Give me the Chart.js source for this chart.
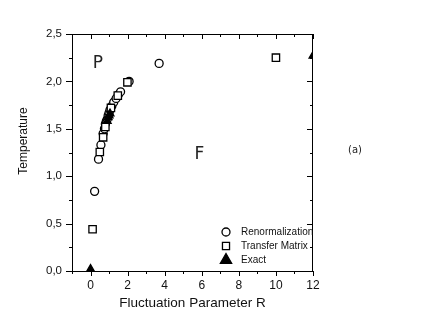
<!DOCTYPE html>
<html>
<head>
<meta charset="utf-8">
<script src="https://cdn.jsdelivr.net/npm/chart.js@4"></script>
<style>
  html, body { margin: 0; padding: 0; background: #fff; }
  #wrap { width: 436px; height: 327px; }
</style>
</head>
<body>
<div id="wrap"><canvas id="phase" width="436" height="327"></canvas></div>
<script>
// values
const renormR = [0.22, 0.43, 0.56, 0.68, 0.75, 0.8, 0.85, 0.9, 0.95, 1.0, 1.05, 1.15, 1.25, 1.38, 1.5, 1.62, 2.08, 3.7];
const renormT = [0.84, 1.18, 1.33, 1.45, 1.5, 1.55, 1.58, 1.6, 1.64, 1.67, 1.7, 1.74, 1.78, 1.82, 1.86, 1.89, 2.0, 2.19];
const transferR = [0.11, 0.5, 0.68, 0.8, 1.1, 1.47, 1.99, 10.0];
const transferT = [0.44, 1.255, 1.41, 1.52, 1.72, 1.85, 1.99, 2.25];
const exactR = [0.0, 0.9, 0.95, 1.0, 1.05, 12.0];
const exactT = [0.02, 1.58, 1.62, 1.64, 1.66, 2.27];
const xTicks = [0, 2, 4, 6, 8, 10, 12];
const yTicks = [0, 0.5, 1.0, 1.5, 2.0, 2.5];
const seriesNames = ["Renormalization", "Transfer Matrix", "Exact"];
const regionLabels = [{ text: "P", r: 0.39, t: 2.19 }, { text: "F", r: 5.87, t: 1.23 }];

const FONT = "'Liberation Sans', Arial, sans-serif";

function pts(xs, ys) { return xs.map((x, i) => ({ x: x, y: ys[i] })); }

// axis frame, tick marks, titles, region letters, legend
const decor = {
  id: "decor",
  afterDraw(chart) {
    const c = chart.ctx, a = chart.chartArea;
    const xs = chart.scales.x, ys = chart.scales.y;
    c.save();
    c.strokeStyle = "#000";
    c.lineWidth = 1;
    c.strokeRect(a.left + 0.5, a.top + 0.5, a.right - a.left - 1, a.bottom - a.top);
    c.beginPath();
    for (let v = -1; v <= 12; v++) {
      const px = Math.round(xs.getPixelForValue(v)) + 0.5;
      const len = v % 2 === 0 ? 5 : 3;
      c.moveTo(px, a.bottom); c.lineTo(px, a.bottom + len);
      c.moveTo(px, a.top); c.lineTo(px, a.top + len);
    }
    for (let v = 0; v <= 2.5001; v += 0.25) {
      const py = Math.round(ys.getPixelForValue(v)) + 0.5;
      const major = Math.abs(v / 0.5 - Math.round(v / 0.5)) < 1e-6;
      const len = major ? 6 : 3;
      c.moveTo(a.left, py); c.lineTo(a.left - len, py);
      c.moveTo(a.right, py); c.lineTo(a.right - len, py);
    }
    c.stroke();

    c.fillStyle = "#111";
    c.textAlign = "center";
    c.textBaseline = "middle";
    c.font = "13.5px " + FONT;
    c.fillText("Fluctuation Parameter R", (a.left + a.right) / 2, 303);
    c.save();
    c.translate(24, 141);
    c.rotate(-Math.PI / 2);
    c.font = "12px " + FONT;
    c.fillText("Temperature", 0, 0);
    c.restore();

    c.font = "17px 'DejaVu Sans', sans-serif";
    c.fillStyle = "#222";
    regionLabels.forEach(l => {
      c.fillText(l.text, xs.getPixelForValue(l.r), ys.getPixelForValue(l.t));
    });
    c.font = "10px 'DejaVu Sans', sans-serif";
    c.fillText("(a)", 355, 150);

    // legend
    const rows = [232, 246, 260];
    c.font = "10px " + FONT;
    c.textAlign = "left";
    chart.data.datasets.forEach((ds, i) => {
      const y = rows[i];
      c.fillStyle = ds.backgroundColor;
      c.strokeStyle = "#000";
      c.lineWidth = 1.3;
      Chart.helpers.drawPoint(c, {
        pointStyle: ds.pointStyle, radius: ds.pointStyle === "triangle" ? 6.5 : (ds.pointStyle === "rect" ? 5 : 4),
        borderWidth: 1.3
      }, 226, y);
      c.fillStyle = "#111";
      c.fillText(ds.label, 241, y);
    });
    c.restore();
  }
};

const common = { borderColor: "#000", borderWidth: 1.3, showLine: false };

new Chart(document.getElementById("phase"), {
  type: "scatter",
  data: {
    datasets: [
      Object.assign({ label: seriesNames[0], data: pts(renormR, renormT), pointStyle: "circle", pointRadius: 4, backgroundColor: "#fff", order: 2 }, common),
      Object.assign({ label: seriesNames[1], data: pts(transferR, transferT), pointStyle: "rect", pointRadius: 5.2, backgroundColor: "#fff", order: 1 }, common),
      Object.assign({ label: seriesNames[2], data: pts(exactR, exactT), pointStyle: "triangle", pointRadius: 4.5, backgroundColor: "#000", order: 0 }, common)
    ]
  },
  options: {
    responsive: false,
    animation: false,
    layout: { padding: { left: 0, right: 123, top: 34, bottom: 0 } },
    plugins: { legend: { display: false }, tooltip: { enabled: false } },
    scales: {
      x: {
        min: -1, max: 12,
        afterBuildTicks: s => { s.ticks = xTicks.map(v => ({ value: v })); },
        afterFit: s => { s.height = 56; },
        grid: { display: false, drawTicks: false },
        border: { display: false },
        ticks: { color: "#111", padding: 7, font: { family: FONT, size: 12 } }
      },
      y: {
        min: 0, max: 2.5,
        afterBuildTicks: s => { s.ticks = yTicks.map(v => ({ value: v })); },
        afterFit: s => { s.width = 72; },
        grid: { display: false, drawTicks: false },
        border: { display: false },
        ticks: { color: "#111", padding: 10, font: { family: FONT, size: 11.5 },
          callback: v => v.toFixed(1).replace(".", ",") }
      }
    }
  },
  plugins: [decor]
});
</script>
</body>
</html>
